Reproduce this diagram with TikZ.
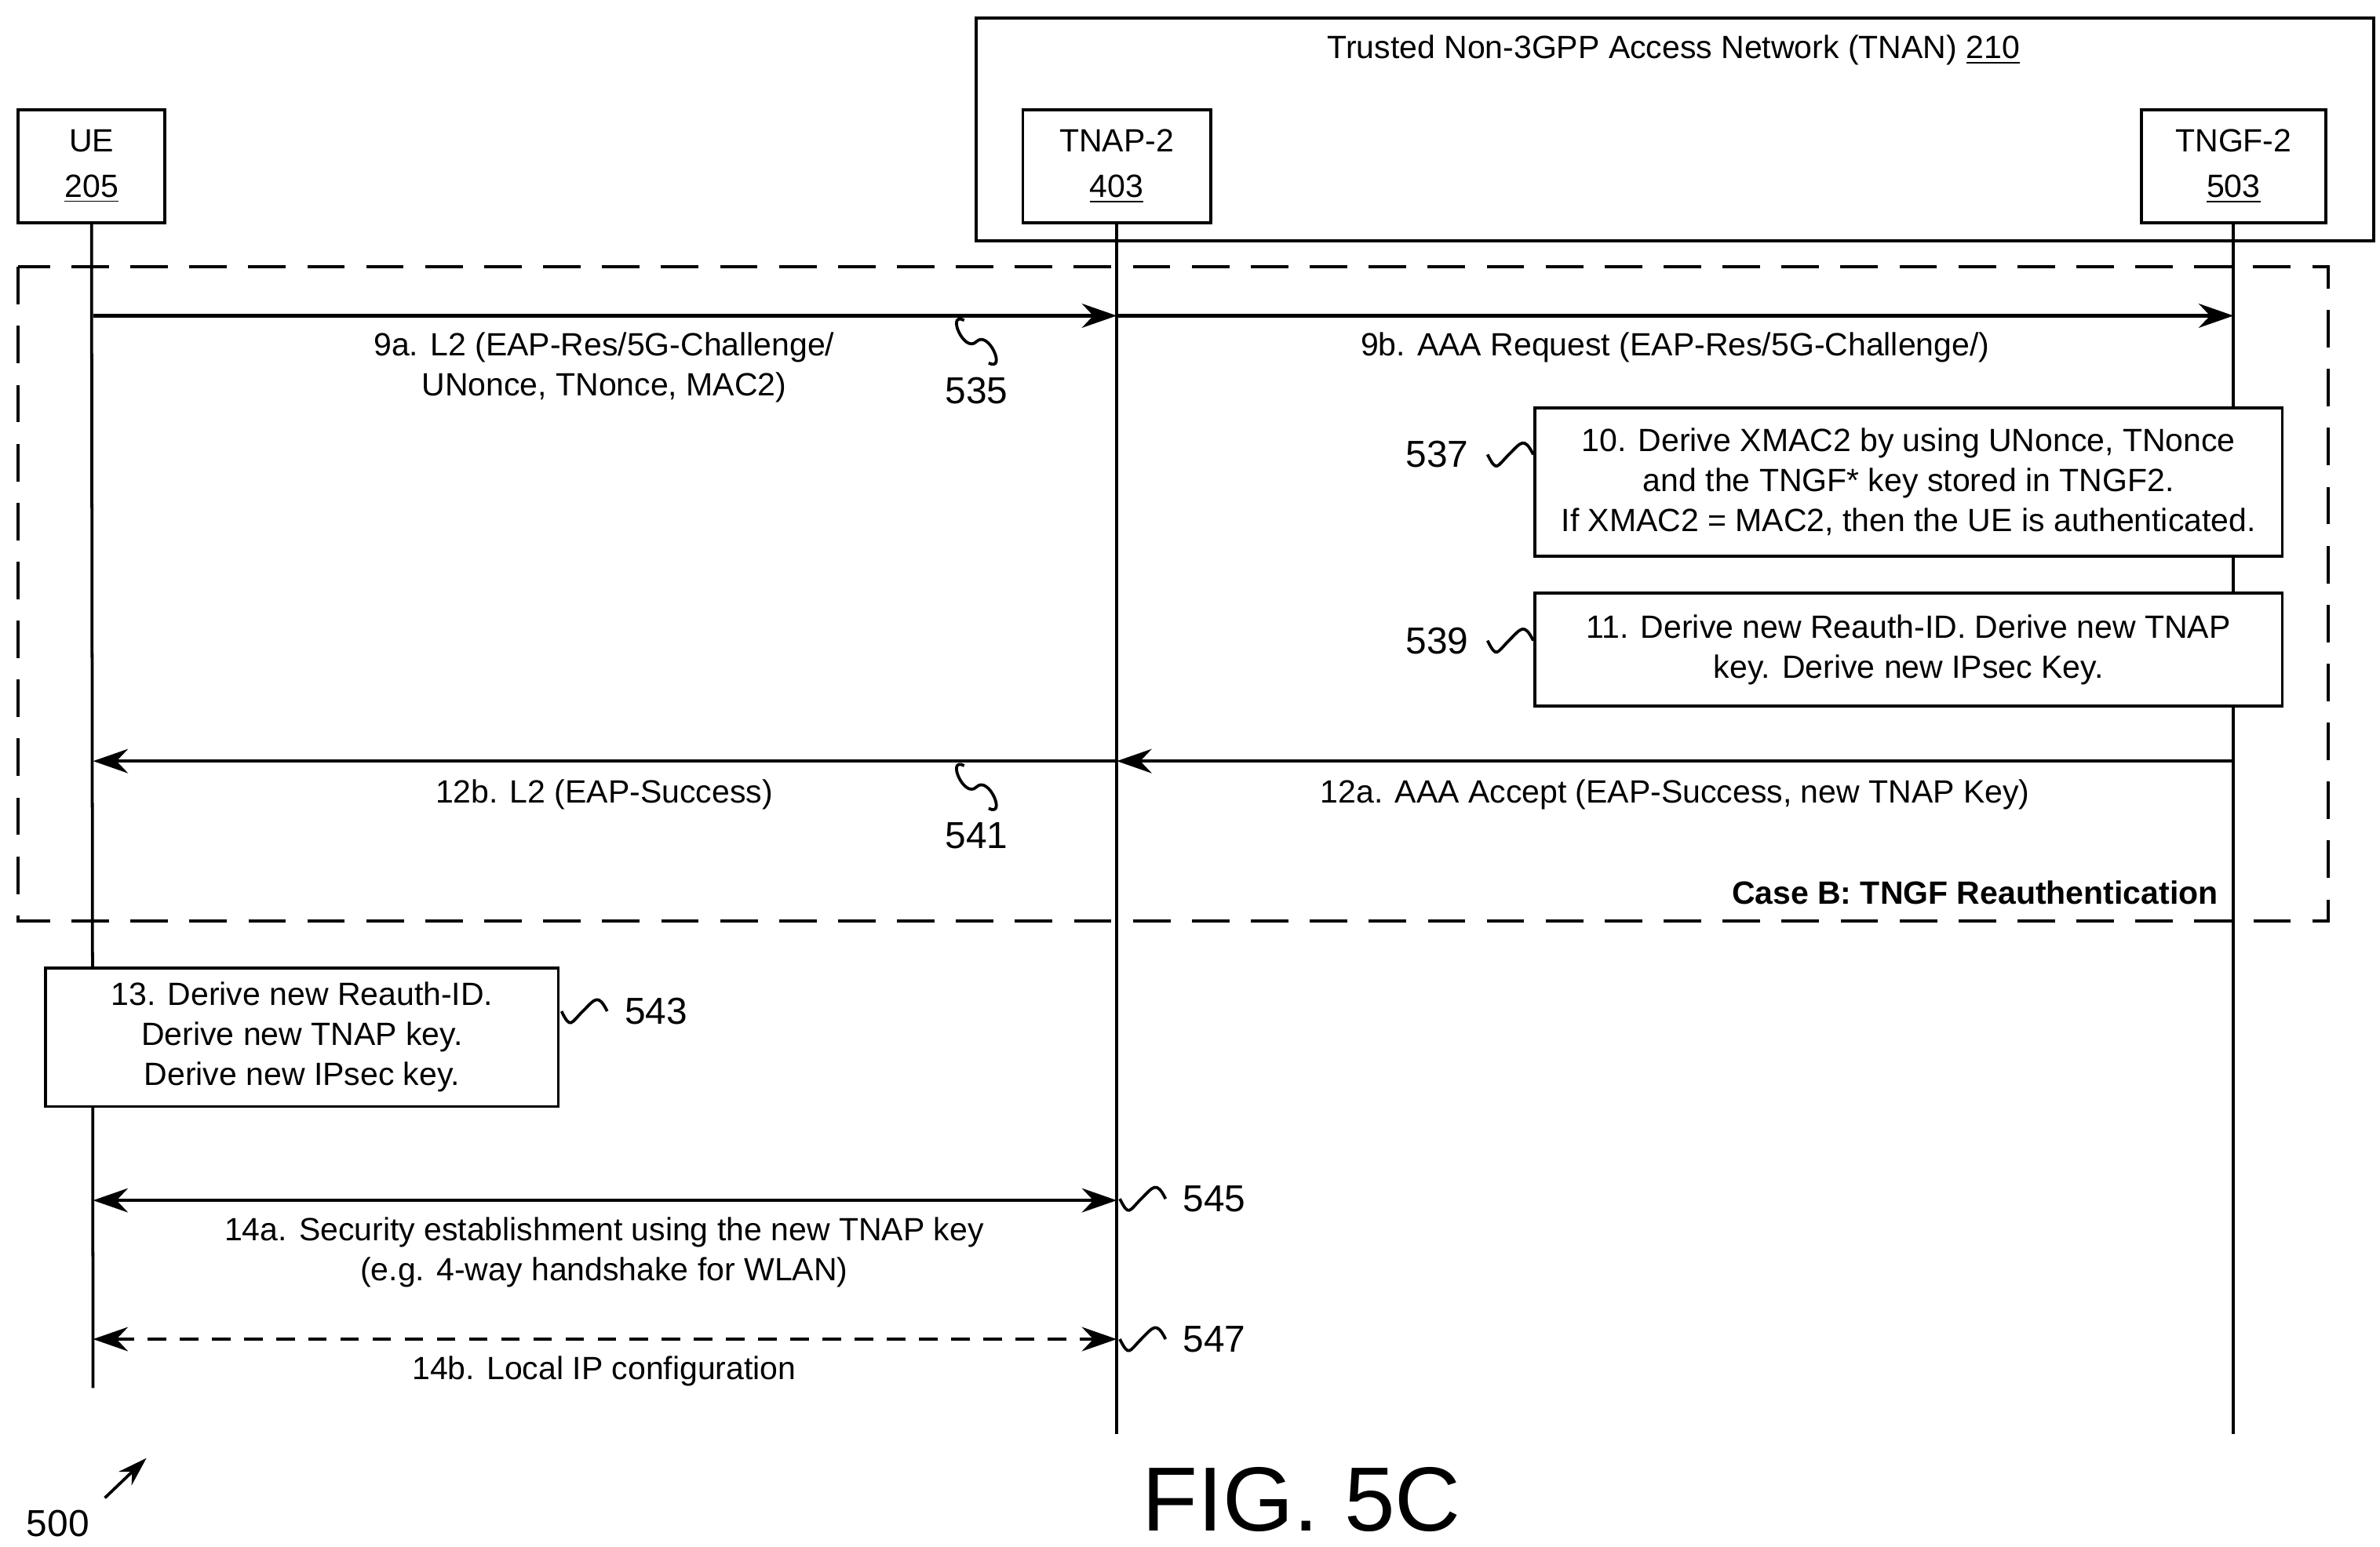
\documentclass[tikz,border=0pt]{standalone}
\usepackage{fontspec}
\setmainfont{Liberation Sans}
\usetikzlibrary{arrows.meta,positioning}

\tikzset{
  box/.style = {rectangle, draw, line width=1.1pt, align=center, inner sep=0pt},
  msg/.style = {line width=1.3pt, -{Stealth[length=13pt,width=9pt]}},
  both/.style = {line width=1.3pt, {Stealth[length=13pt,width=9pt]}-{Stealth[length=13pt,width=9pt]}},
  life/.style = {line width=1.1pt},
  lbl/.style = {align=center, font=\fontsize{12}{15}\selectfont},
  ref/.style = {font=\fontsize{14}{16}\selectfont},
}
\newcommand{\vsq}[1]{\draw[line width=1.1pt] (#1) .. controls +(-12,-6) and +(-8,8) .. +(8,14) .. controls +(8,-8) and +(12,6) .. +(16,28);}
\newcommand{\hsq}[1]{\draw[line width=1.1pt] (#1) .. controls +(6,12) and +(-8,8) .. +(14,0) .. controls +(8,-8) and +(-6,-12) .. +(30,0);}

\begin{document}
\begin{tikzpicture}[x=0.02cm, y=-0.02cm]
    \useasboundingbox (0,0) rectangle (1560,1014);

    % TNAN frame
    \draw[line width=1.1pt] (640,12) rectangle (1556,158);
    \node[lbl] (tnan) at (1097,33) {Trusted Non-3GPP Access Network (TNAN) \underline{210}};

    % entities
    \node[box, minimum width=96*0.02cm, minimum height=74*0.02cm, lbl] (ue) at (60,109) {UE\\[2pt]\underline{205}};
    \node[box, minimum width=123*0.02cm, minimum height=74*0.02cm, lbl] (tnap) at (732,109) {TNAP-2\\[2pt]\underline{403}};
    \node[box, minimum width=121*0.02cm, minimum height=74*0.02cm, lbl] (tngf) at (1464,109) {TNGF-2\\[2pt]\underline{503}};

    % lifelines
    \coordinate (ueend) at (61,910);
    \coordinate (tnapend) at (732,940);
    \coordinate (tngfend) at (1464,940);
    \draw[life] (ue.south) -- (ueend);
    \draw[life] (tnap.south) -- (tnapend);
    \draw[life] (tngf.south) -- (tngfend);

    % case B frame
    \draw[line width=1.1pt, dash pattern=on 14pt off 8pt] (12,175) rectangle (1526,604);
    \node[lbl, font=\fontsize{12}{15}\selectfont\bfseries, anchor=east] (caseb) at (1460,585) {Case B: TNGF Reauthentication};

    % 9a / 9b
    \coordinate (ue9) at (61,207);
    \coordinate (tnap9) at (732,207);
    \coordinate (tngf9) at (1464,207);
    \draw[msg] (ue9) -- (tnap9);
    \draw[msg] (tnap9) -- (tngf9);
    \node[lbl] (m9a) at (396,241) {9a. L2 (EAP-Res/5G-Challenge/\\UNonce, TNonce, MAC2)};
    \node[lbl] (m9b) at (1098,228) {9b. AAA Request (EAP-Res/5G-Challenge/)};
    \coordinate (s535) at (632,210);
    \vsq{s535}
    \node[ref] (r535) at (640,256) {535};

    % 10 / 11
    \node[box, lbl, fill=white, minimum width=490*0.02cm, minimum height=97*0.02cm] (d10) at (1251,316)
        {10. Derive XMAC2 by using UNonce, TNonce\\and the TNGF* key stored in TNGF2.\\If XMAC2 = MAC2, then the UE is authenticated.};
    \coordinate (s537) at (975,298);
    \hsq{s537}
    \node[ref] (r537) at (942,298) {537};
    \node[box, lbl, fill=white, minimum width=490*0.02cm, minimum height=74*0.02cm] (d11) at (1251,426)
        {11. Derive new Reauth-ID. Derive new TNAP\\key. Derive new IPsec Key.};
    \coordinate (s539) at (975,420);
    \hsq{s539}
    \node[ref] (r539) at (942,420) {539};

    % 12a / 12b
    \coordinate (ue12) at (61,499);
    \coordinate (tnap12) at (732,499);
    \coordinate (tngf12) at (1464,499);
    \draw[msg] (tngf12) -- (tnap12);
    \draw[msg] (tnap12) -- (ue12);
    \node[lbl] (m12a) at (1098,521) {12a. AAA Accept (EAP-Success, new TNAP Key)};
    \node[lbl] (m12b) at (396,521) {12b. L2 (EAP-Success)};
    \coordinate (s541) at (632,502);
    \vsq{s541}
    \node[ref] (r541) at (640,548) {541};

    % 13
    \node[box, lbl, fill=white, minimum width=336*0.02cm, minimum height=91*0.02cm] (d13) at (198,680)
        {13. Derive new Reauth-ID.\\Derive new TNAP key.\\Derive new IPsec key.};
    \coordinate (s543) at (368,663);
    \hsq{s543}
    \node[ref] (r543) at (430,663) {543};

    % 14a / 14b
    \coordinate (ue14a) at (61,787);
    \coordinate (tnap14a) at (732,787);
    \draw[both] (ue14a) -- (tnap14a);
    \node[lbl] (m14a) at (396,821) {14a. Security establishment using the new TNAP key\\(e.g. 4-way handshake for WLAN)};
    \coordinate (s545) at (734,786);
    \hsq{s545}
    \node[ref] (r545) at (796,786) {545};

    \coordinate (ue14b) at (61,878);
    \coordinate (tnap14b) at (732,878);
    \draw[both, dash pattern=on 7pt off 5pt] (ue14b) -- (tnap14b);
    \node[lbl] (m14b) at (396,899) {14b. Local IP configuration};
    \coordinate (s547) at (734,878);
    \hsq{s547}
    \node[ref] (r547) at (796,878) {547};

    % figure label
    \node[font=\fontsize{34}{40}\selectfont] (fig) at (853,983) {FIG. 5C};
    \node[ref] (n500) at (38,999) {500};
    \coordinate (a500) at (96,956);
    \draw[line width=1.1pt, -{Stealth[length=11pt,width=7pt]}] (n500.north east) ++(4,-2) -- (a500);
\end{tikzpicture}
\end{document}
